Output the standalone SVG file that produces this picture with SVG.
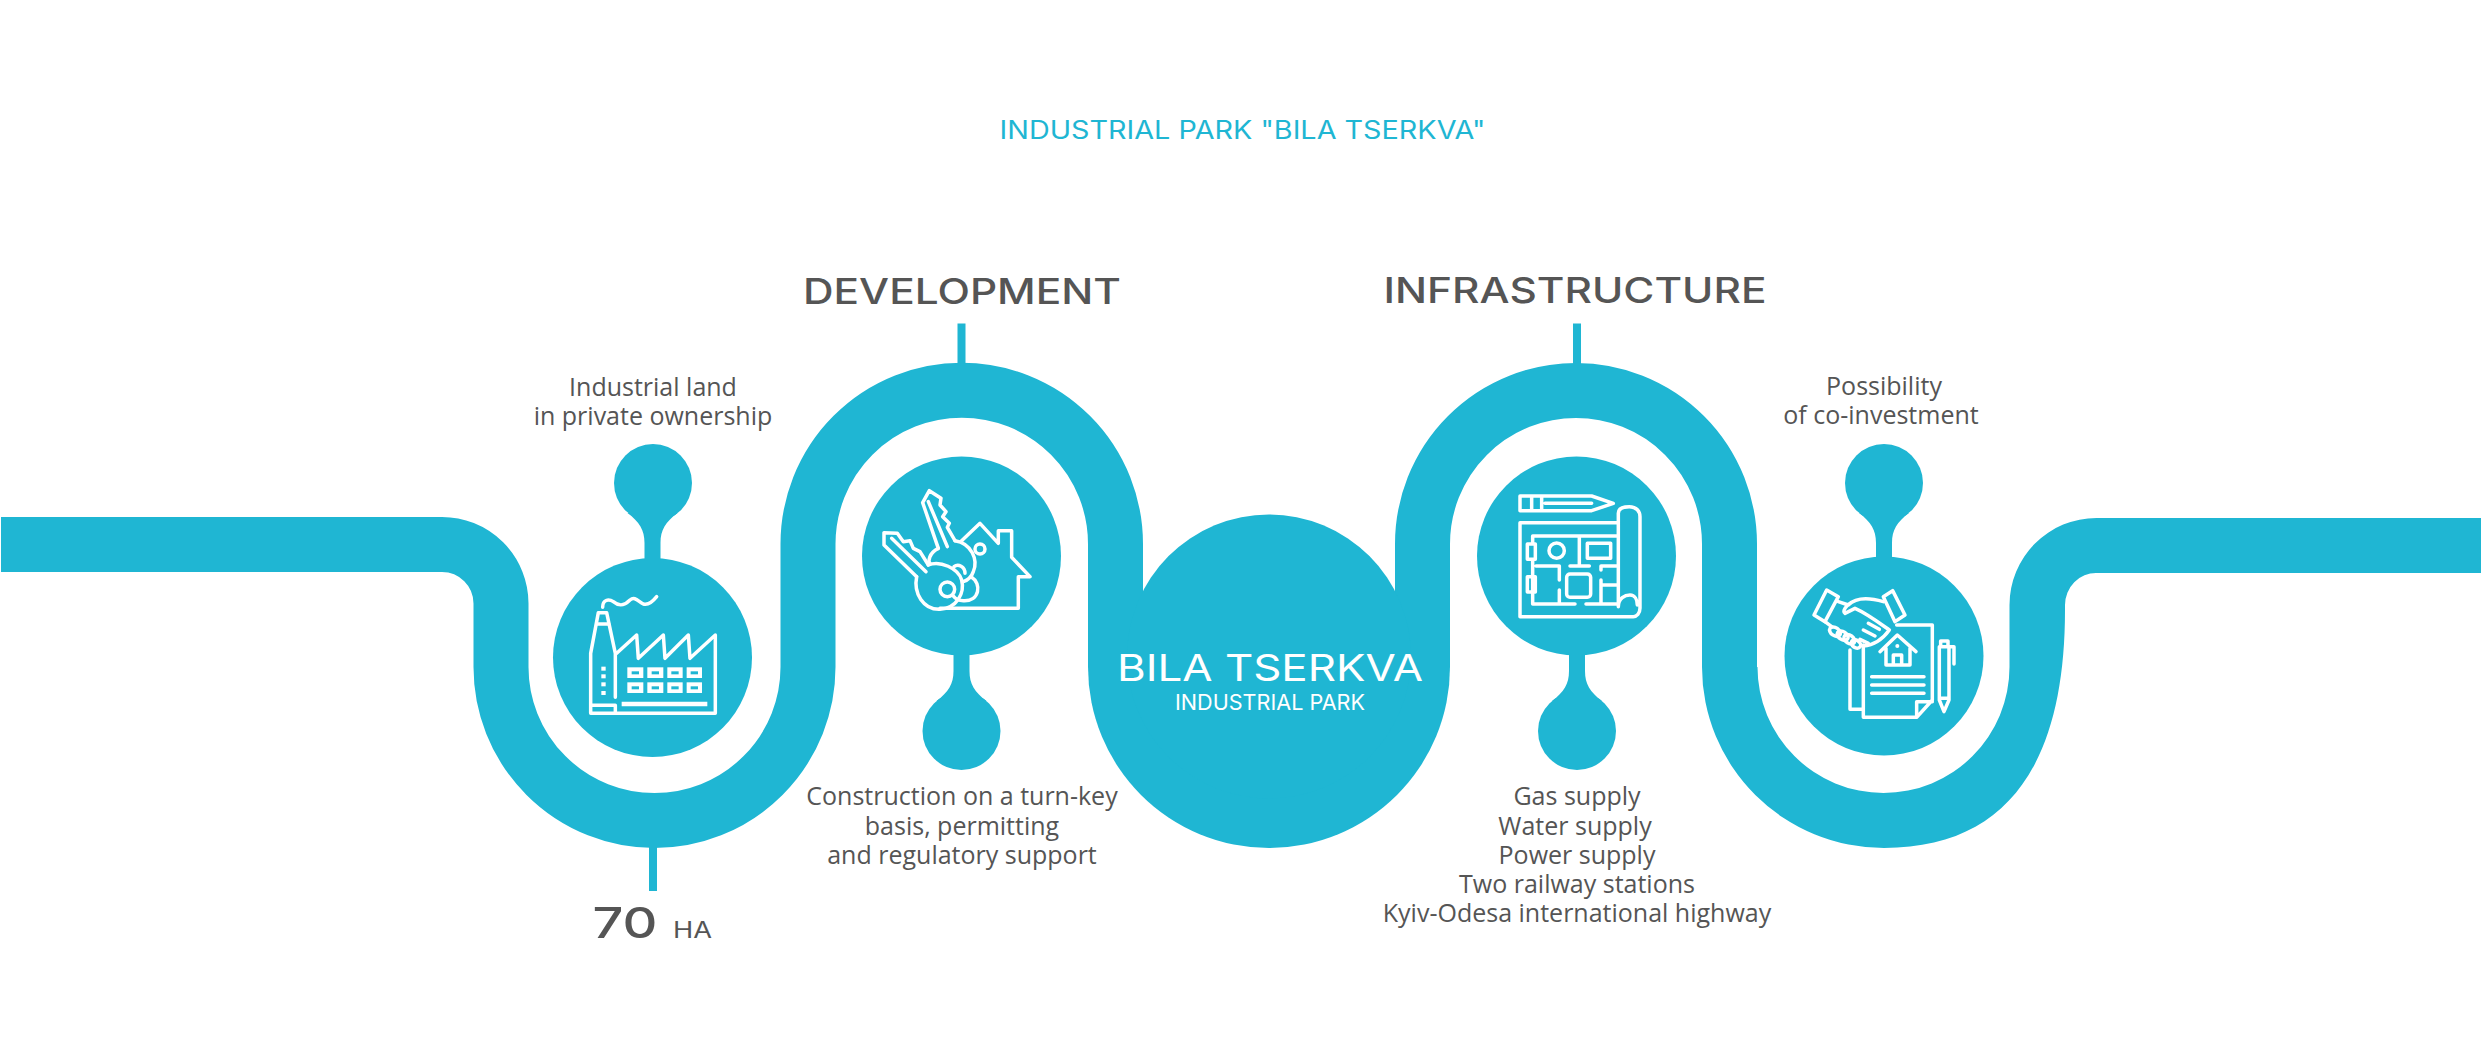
<svg xmlns="http://www.w3.org/2000/svg" width="2482" height="1064" viewBox="0 0 2482 1064">
<style>
.band{fill:none;stroke:#1fb6d3;stroke-width:55}
.fill{fill:#1fb6d3}
.tick{fill:#1fb6d3}
.ic{fill:none;stroke:#fff;stroke-width:10.500;stroke-linejoin:round;stroke-linecap:round}
.wf{fill:#fff}
.hole{fill:#1fb6d3}
.body{font-family:"Open Sans","Liberation Sans",sans-serif;font-size:25px;fill:#555;text-anchor:middle}
.head{font-family:Inter,"Liberation Sans",sans-serif;font-size:35px;font-weight:500;fill:#555;text-anchor:middle}
.wt{font-family:Inter,"Liberation Sans",sans-serif;fill:#fff;text-anchor:middle}
</style>
<defs>
<path id="neckUp" d="M-25 30C-13 39-8 47-8 60V78H8V60C8 47 13 39 25 30Z"/>
<path id="neckDown" d="M-25 -30C-13 -39-8 -47-8 -60V-78H8V-60C8 -47 13 -39 25 -30Z"/>
</defs>
<rect width="2482" height="1064" fill="#fff"/>
<g id="connectors">
<path class="band" d="M1 544.5H442A59 59 0 0 1 501 603.5V667A153.5 153.5 0 0 0 808 667V544A153.5 153.5 0 0 1 1115.5 544V640"/>
<path class="band" d="M1422.5 640V544A153.5 153.5 0 0 1 1729.5 544V667"/>
<path class="fill" d="M1702 667A182 181 0 0 0 1884 848C2010 848 2065 760 2065 610V605A31 32 0 0 1 2096.500 573H2481V518H2096.500A87 87 0 0 0 2009.500 605V667A126 126 0 0 1 1757.500 667Z"/>
<rect class="tick" x="649" y="846" width="8" height="45"/>
<rect class="tick" x="957.500" y="323.500" width="8" height="42"/>
<rect class="tick" x="1573" y="323.500" width="8" height="42"/>
</g>
<g id="node-title"><text x="1242.500" y="138.500" font-family="Inter,'Liberation Sans',sans-serif" font-size="25" fill="#1fb6d3" text-anchor="middle" textLength="486" lengthAdjust="spacingAndGlyphs">INDUSTRIAL PARK "BILA TSERKVA"</text></g>
<g id="node-center">
<path class="fill" d="M1088 640V667A181 181 0 0 0 1450 667V640Z"/>
<circle class="fill" cx="1269" cy="656.500" r="142"/>
<text class="wt" x="1270" y="680.500" font-size="36.500" font-weight="400" textLength="306" lengthAdjust="spacingAndGlyphs">BILA TSERKVA</text>
<text class="wt" x="1270" y="710" font-size="21" font-weight="400" textLength="190" lengthAdjust="spacingAndGlyphs">INDUSTRIAL PARK</text>
</g>
<g id="node-land">
<circle class="fill" cx="652.500" cy="657.500" r="99.500"/>
<circle class="fill" cx="653" cy="483" r="39"/>
<use href="#neckUp" class="fill" x="652.500" y="483"/>
<g transform="translate(570 590) scale(.3333)">
<path class="ic" d="M98 52C98 30 115 25 130 35C150 52 165 45 180 30C195 18 205 35 220 42C235 47 248 35 260 20"/>
<path class="ic" d="M136 322V190L110 68H85L62 190V370H436V135L360 205L355 135L285 205L280 135L205 205L200 135L140 190"/>
<path class="ic" d="M80 102H116M62 346H136V370"/>
<path class="ic" style="stroke-width:13;stroke-linecap:butt" d="M155 342H412"/>
<g class="wf"><rect x="94" y="230" width="13" height="12"/><rect x="94" y="253" width="13" height="12"/><rect x="94" y="277" width="13" height="12"/><rect x="94" y="303" width="13" height="12"/>
<rect x="172" y="232" width="48" height="32"/><rect x="232" y="232" width="48" height="32"/><rect x="292" y="232" width="46" height="32"/><rect x="350" y="232" width="46" height="32"/>
<rect x="172" y="277" width="48" height="32"/><rect x="232" y="277" width="48" height="32"/><rect x="292" y="277" width="46" height="32"/><rect x="350" y="277" width="46" height="32"/></g>
<g class="hole"><rect x="185" y="244" width="22" height="9"/><rect x="245" y="244" width="22" height="9"/><rect x="304" y="244" width="22" height="9"/><rect x="362" y="244" width="22" height="9"/>
<rect x="185" y="289" width="22" height="9"/><rect x="245" y="289" width="22" height="9"/><rect x="304" y="289" width="22" height="9"/><rect x="362" y="289" width="22" height="9"/></g>
</g>
<text class="body" x="653" y="395.500">Industrial land</text>
<text class="body" x="653" y="424.500">in private ownership</text>
<text x="625" y="938" font-family="Inter,'Liberation Sans',sans-serif" font-size="43" fill="#555" font-weight="500" text-anchor="middle" textLength="65" lengthAdjust="spacingAndGlyphs">70</text>
<text x="692.500" y="938" font-family="Inter,'Liberation Sans',sans-serif" font-size="23" fill="#555" text-anchor="middle" textLength="39" lengthAdjust="spacingAndGlyphs">HA</text>
</g>
<g id="node-development">
<circle class="fill" cx="961.500" cy="556" r="99.500"/>
<circle class="fill" cx="961.500" cy="731" r="39"/>
<use href="#neckDown" class="fill" x="961.500" y="731"/>
<g transform="translate(860 470) scale(.3333)">
<path class="ic" d="M235 235L188 98L208 62L243 85L240 105L258 125L248 140L268 160L262 172L285 212"/>
<path class="ic" d="M205 95L262 230"/>
<path class="ic" d="M235 235C205 250 205 275 210 280M285 212C335 220 355 270 340 305C335 320 325 330 310 335"/>
<path class="ic" d="M282 290C295 280 315 290 315 310"/>
<path class="ic" d="M205 285L180 245L160 235L150 212L130 215L112 190L72 188V225L170 320"/>
<path class="ic" d="M95 205L198 305"/>
<path class="ic" d="M170 320C160 370 190 420 240 418C290 415 315 370 305 330C295 295 240 270 205 285"/>
<circle class="ic" cx="262" cy="358" r="22"/>
<path class="ic" d="M335 322C365 340 360 395 310 392C295 392 285 385 280 378"/>
<path class="ic" d="M305 212L360 160L415 220V182H455V262L510 320H475V415H240"/>
<circle class="ic" cx="360" cy="237" r="15"/>
</g>
<text class="body" x="962" y="805">Construction on a turn-key</text>
<text class="body" x="962" y="834.500">basis, permitting</text>
<text class="body" x="962" y="864">and regulatory support</text>
<text class="head" x="962" y="304" textLength="318" lengthAdjust="spacingAndGlyphs">DEVELOPMENT</text>
</g>
<g id="node-infrastructure">
<circle class="fill" cx="1576.500" cy="556" r="99.500"/>
<circle class="fill" cx="1577" cy="731" r="39"/>
<use href="#neckDown" class="fill" x="1577" y="731"/>
<g transform="translate(1500 480) scale(.3333)">
<path class="ic" d="M275 48H60V92H275L340 70ZM95 48V92M125 48V92M135 70H275"/>
<path class="ic" d="M350 128H60V410H400C410 410 420 400 420 385V110C420 95 410 80 388 80C370 80 355 85 355 100V380C355 355 375 345 390 345C405 345 412 360 412 375"/>
<path class="ic" d="M350 168H98V190M98 240V340M98 340V372H225M258 372H350M238 168V255M210 258H268M108 258H178V300M178 330V372M303 258H350M303 258V270M303 300V372M303 315H350"/>
<rect class="ic" x="82" y="192" width="24" height="46"/>
<rect class="ic" x="82" y="290" width="24" height="46"/>
<circle class="ic" cx="170" cy="212" r="23"/>
<rect class="ic" x="262" y="190" width="70" height="45"/>
<rect class="ic" x="200" y="282" width="72" height="70" rx="10"/>
</g>
<text class="body" x="1577" y="805">Gas supply</text>
<text class="body" x="1575" y="834.500">Water supply</text>
<text class="body" x="1577" y="864">Power supply</text>
<text class="body" x="1577" y="893">Two railway stations</text>
<text class="body" x="1577" y="922">Kyiv-Odesa international highway</text>
<text class="head" x="1575" y="303" textLength="383" lengthAdjust="spacingAndGlyphs">INFRASTRUCTURE</text>
</g>
<g id="node-coinvestment">
<circle class="fill" cx="1884" cy="656" r="99.500"/>
<circle class="fill" cx="1884" cy="483" r="39"/>
<use href="#neckUp" class="fill" x="1884" y="483"/>
<g transform="translate(1800 580) scale(.3333)">
<path class="ic" d="M80 30L115 50L75 125L42 105ZM278 32L315 105L285 125L250 50Z"/>
<path class="ic" d="M115 65L145 75C170 50 215 55 250 65M135 100C125 95 140 75 150 70M135 100L165 85C200 100 240 130 268 150C250 175 225 195 190 198M75 125L95 140"/>
<path class="ic" d="M205 130L238 148M190 150L225 168M180 178L205 190"/>
<ellipse class="ic" cx="105" cy="155" rx="18" ry="12" transform="rotate(35 105 155)"/>
<ellipse class="ic" cx="128" cy="167" rx="18" ry="12" transform="rotate(35 128 167)"/>
<ellipse class="ic" cx="148" cy="178" rx="18" ry="12" transform="rotate(35 148 178)"/>
<ellipse class="ic" cx="168" cy="192" rx="15" ry="11" transform="rotate(35 168 192)"/>
<path class="ic" d="M290 135H397V360L350 412H190V195M150 210V388H190M350 412V365H397"/>
<path class="ic" d="M240 215L292 165L348 215M258 205V255H330V205M280 255V225H305V255"/>
<circle class="wf" cx="292" cy="198" r="6"/>
<path class="ic" d="M215 290H372M215 315H372M215 340H372"/>
<path class="ic" d="M418 200V360L432 395L447 360V200ZM422 200V183H444V200M447 200H462V252M418 355H447"/>
</g>
<text class="body" x="1884" y="394.500">Possibility</text>
<text class="body" x="1881" y="424">of co-investment</text>
</g>
</svg>
